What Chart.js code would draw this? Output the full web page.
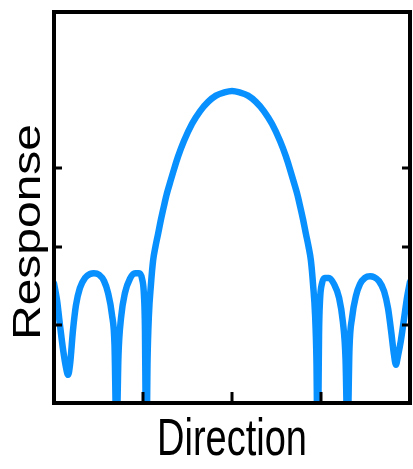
<!DOCTYPE html>
<html>
<head>
<meta charset="utf-8">
<script src="https://cdn.jsdelivr.net/npm/chart.js@4"></script>
<style>
  html, body { margin: 0; padding: 0; background: #fff; }
  #wrap { width: 413px; height: 469px; }
</style>
</head>
<body>
<div id="wrap"><canvas id="beam"></canvas></div>
<script>
// beam pattern, direction in degrees
const directionDeg = [
  -90.0, -88.5, -87.0, -85.4, -83.9, -82.9, -81.9, -80.4, -78.9, -76.9,
  -74.3, -71.8, -69.8, -67.2, -64.7, -62.7, -60.7, -59.4, -58.4,
  -57.4, -56.1, -54.1, -51.6, -49.0, -47.0, -45.5, -44.5, -44.0, -43.7, -43.2,
  -42.7, -42.0, -41.0, -39.9, -38.7, -37.4, -35.9, -34.4, -32.9, -31.3,
  -29.3, -27.3, -24.3, -20.2, -16.2, -12.1, -8.1, -4.0, 0,
  4.0, 8.1, 12.1, 16.2, 20.2, 24.3, 27.3, 29.3, 31.3, 32.9,
  34.4, 35.9, 37.4, 38.7, 39.9, 41.0, 42.0, 42.7, 43.2,
  43.7, 44.0, 44.5, 45.5, 47.0, 49.0, 51.6, 54.1, 56.1, 57.4, 58.4,
  59.4, 60.7, 62.7, 64.7, 67.2, 69.8, 71.8, 74.3, 76.9, 78.9, 80.4, 81.9, 82.9,
  83.9, 85.4, 87.0, 88.5, 90.0
];
const responseVals = [
  1.53, 1.32, 1.00, 0.68, 0.45, 0.36, 0.49, 0.93, 1.25, 1.47,
  1.60, 1.65, 1.66, 1.64, 1.56, 1.41, 1.13, 0.74, -0.47,
  0.61, 1.09, 1.41, 1.59, 1.66, 1.66, 1.59, 1.37, 0.93, 0.04, -0.47,
  0.55, 1.13, 1.51, 1.82, 2.00, 2.16, 2.35, 2.52, 2.68, 2.82,
  2.99, 3.15, 3.35, 3.57, 3.73, 3.85, 3.93, 3.97, 3.99,
  3.97, 3.93, 3.85, 3.73, 3.57, 3.35, 3.15, 2.99, 2.82, 2.68,
  2.52, 2.35, 2.16, 2.00, 1.82, 1.51, 1.13, 0.55, -0.47,
  0.04, 0.87, 1.31, 1.53, 1.60, 1.60, 1.52, 1.35, 1.03, 0.57, -0.47,
  0.70, 1.09, 1.37, 1.52, 1.60, 1.62, 1.61, 1.56, 1.43, 1.21, 0.93, 0.62, 0.49,
  0.60, 0.80, 1.08, 1.35, 1.55
];
const xTickVals = [-45, 0, 45];
const yTickVals = [1, 2, 3];
const xTitle = 'Direction';
const yTitle = 'Response';

// box frame, inward ticks and the stretched axis titles
const framePlugin = {
  id: 'frame',
  afterDraw(chart) {
    const { ctx, chartArea: a, scales } = chart;
    ctx.save();
    ctx.strokeStyle = '#000';
    ctx.lineWidth = 4;
    ctx.strokeRect(a.left, a.top, a.right - a.left, a.bottom - a.top);

    ctx.fillStyle = '#000';
    yTickVals.forEach(v => {
      const y = Math.round(scales.y.getPixelForValue(v));
      ctx.fillRect(a.left + 2, y - 1.5, 6, 3);
      ctx.fillRect(a.right - 8, y - 1.5, 6, 3);
    });
    xTickVals.forEach(v => {
      const x = Math.round(scales.x.getPixelForValue(v));
      ctx.fillRect(x - 1.5, a.bottom - 11, 3, 9);
    });

    ctx.font = '38px "Liberation Sans", Arial, sans-serif';
    ctx.textAlign = 'center';
    ctx.textBaseline = 'alphabetic';
    ctx.save();
    ctx.translate((a.left + a.right) / 2, 455);
    ctx.scale(1, 1.36);
    ctx.fillText(xTitle, 0, 0);
    ctx.restore();

    ctx.font = '39px "Liberation Sans", Arial, sans-serif';
    ctx.save();
    ctx.translate(40, 232);
    ctx.rotate(-Math.PI / 2);
    ctx.scale(1.23, 1);
    ctx.fillText(yTitle, 0, 0);
    ctx.restore();
    ctx.restore();
  }
};

new Chart(document.getElementById('beam'), {
  type: 'line',
  data: {
    datasets: [{
      data: directionDeg.map((d, i) => ({ x: d, y: responseVals[i] })),
      borderColor: '#0990ff',
      borderWidth: 6.5,
      pointRadius: 0,
      cubicInterpolationMode: 'monotone',
      borderJoinStyle: 'round',
      borderCapStyle: 'round',
      clip: 0,
      fill: false
    }]
  },
  options: {
    responsive: true,
    maintainAspectRatio: false,
    animation: false,
    layout: { padding: { left: 54, top: 12, right: 3, bottom: 66 } },
    plugins: {
      legend: { display: false },
      tooltip: { enabled: false }
    },
    scales: {
      x: { type: 'linear', min: -90, max: 90, display: false },
      y: { min: 0, max: 5, display: false }
    }
  },
  plugins: [framePlugin]
});
</script>
</body>
</html>
